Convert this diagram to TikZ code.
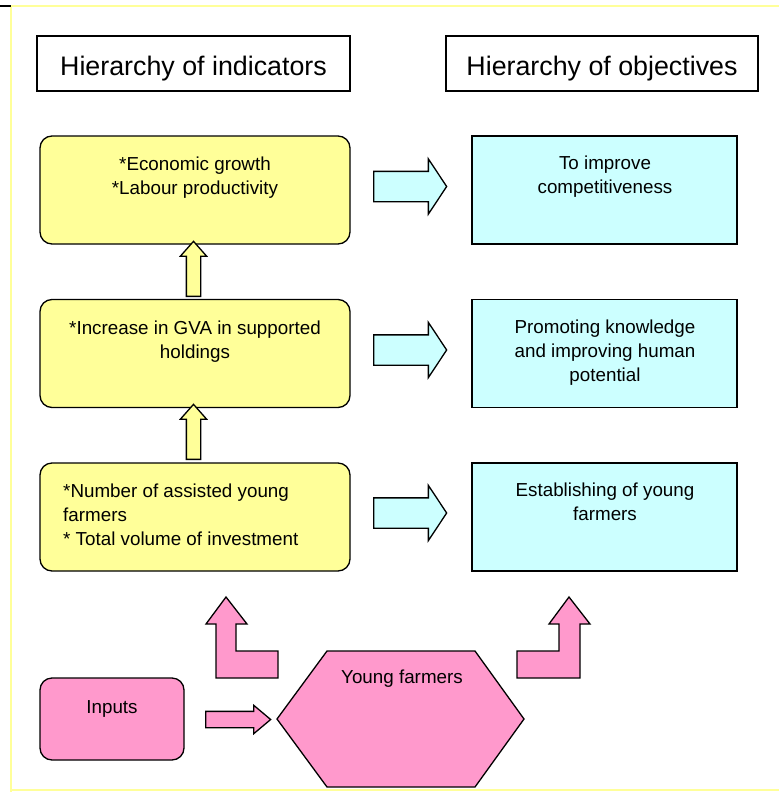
\documentclass[tikz,border=0pt]{standalone}
\usepackage{fontspec}
\setmainfont{Liberation Sans}
\usetikzlibrary{shapes.arrows}
\definecolor{indyellow}{HTML}{FFFF99}
\definecolor{objcyan}{HTML}{CCFFFF}
\definecolor{inpink}{HTML}{FF99CC}
\begin{document}
\begin{tikzpicture}[x=1pt,y=-1pt,%
    head/.style={draw,line width=1.3pt,minimum width=313pt,minimum height=55pt,inner sep=0pt},
    indbox/.style={draw,line width=1.3pt,rounded corners=12pt,fill=indyellow,minimum width=310pt,minimum height=108pt},
    objbox/.style={draw,line width=1.3pt,fill=objcyan,minimum width=265pt,minimum height=108pt},
    txt/.style={font=\fontsize{18.8}{24}\selectfont,inner sep=0pt,anchor=base},
    bigarrow/.style={single arrow,draw,line width=1.3pt,inner xsep=0pt,single arrow head indent=0pt,anchor=tail},
    rarrow/.style={bigarrow,fill=objcyan,minimum height=73pt,inner ysep=14.5pt,single arrow head extend=12.5pt,single arrow tip angle=113},
    uarrow/.style={bigarrow,fill=indyellow,rotate=90,minimum height=55pt,inner ysep=6.5pt,single arrow head extend=6pt,single arrow tip angle=83},
    pinkshape/.style={draw,line width=1.3pt,fill=inpink,line join=miter}
  ]
		\useasboundingbox (0,0) rectangle (779,792);
		\draw[indyellow,line width=1.5pt] (11,792) -- (11,6) -- (779,6);
		\draw[indyellow,line width=1.5pt] (11,790) -- (779,790);
		\draw[line width=1.5pt] (0,6) -- (11,6);

		\node at (193.5,63.5) [head] (hind) {};
		\node at (602,63.5) [head,minimum width=312pt] (hobj) {};
		\node at (193.5,75) [txt,font=\fontsize{26.8}{30}\selectfont] (thind) {Hierarchy of indicators};
		\node at (602,75) [txt,font=\fontsize{26.8}{30}\selectfont] (thobj) {Hierarchy of objectives};

		\node at (195,190) [indbox] (i1) {};
		\node at (195,353.5) [indbox] (i2) {};
		\node at (195,517) [indbox] (i3) {};
		% base of a multi-line node = last line
		\node at (195,194) [txt,align=center] (ti1) {*Economic growth\\*Labour productivity};
		\node at (195,358) [txt,align=center] (ti2) {*Increase in GVA in supported\\holdings};
		\node at (63,545) [txt,align=left,anchor=base west] (ti3) {*Number of assisted young\\farmers\\* Total volume of investment};

		\node at (604.5,190) [objbox] (o1) {};
		\node at (604.5,353.5) [objbox] (o2) {};
		\node at (604.5,517) [objbox] (o3) {};
		\node at (605,193) [txt,align=center] (to1) {To improve\\competitiveness};
		\node at (605,381) [txt,align=center] (to2) {Promoting knowledge\\and improving human\\potential};
		\node at (605,520) [txt,align=center] (to3) {Establishing of young\\farmers};

		% block arrows, placed by their tails
		\node at (373,186.5) [rarrow] (a1) {};
		\node at (373,350) [rarrow] (a2) {};
		\node at (373,513) [rarrow] (a3) {};

		\node at (193.5,297) [uarrow] (u1) {};
		\node at (193.5,460) [uarrow] (u2) {};

		\node at (112,719) [draw,line width=1.3pt,rounded corners=12pt,fill=inpink,minimum width=144pt,minimum height=82pt] (inp) {};
		\node at (112,713) [txt] (tinp) {Inputs};
		\node at (205,719.5) [bigarrow,fill=inpink,minimum height=65pt,inner ysep=7.5pt,single arrow head extend=6pt,single arrow tip angle=80] (ain) {};

		\draw[pinkshape] (277,719) -- (327,651) -- (475,651) -- (524,719) -- (475,787) -- (327,787) -- cycle;
		\node at (402,683) [txt] (tyf) {Young farmers};

		\draw[pinkshape] (226,597) -- (247,624) -- (236,624) -- (236,651) -- (278,651) -- (278,678) -- (216,678) -- (216,624) -- (206,624) -- cycle;
		\draw[pinkshape] (569,597) -- (590,624) -- (580,624) -- (580,678) -- (517,678) -- (517,651) -- (559,651) -- (559,624) -- (549,624) -- cycle;
	\end{tikzpicture}
\end{document}
